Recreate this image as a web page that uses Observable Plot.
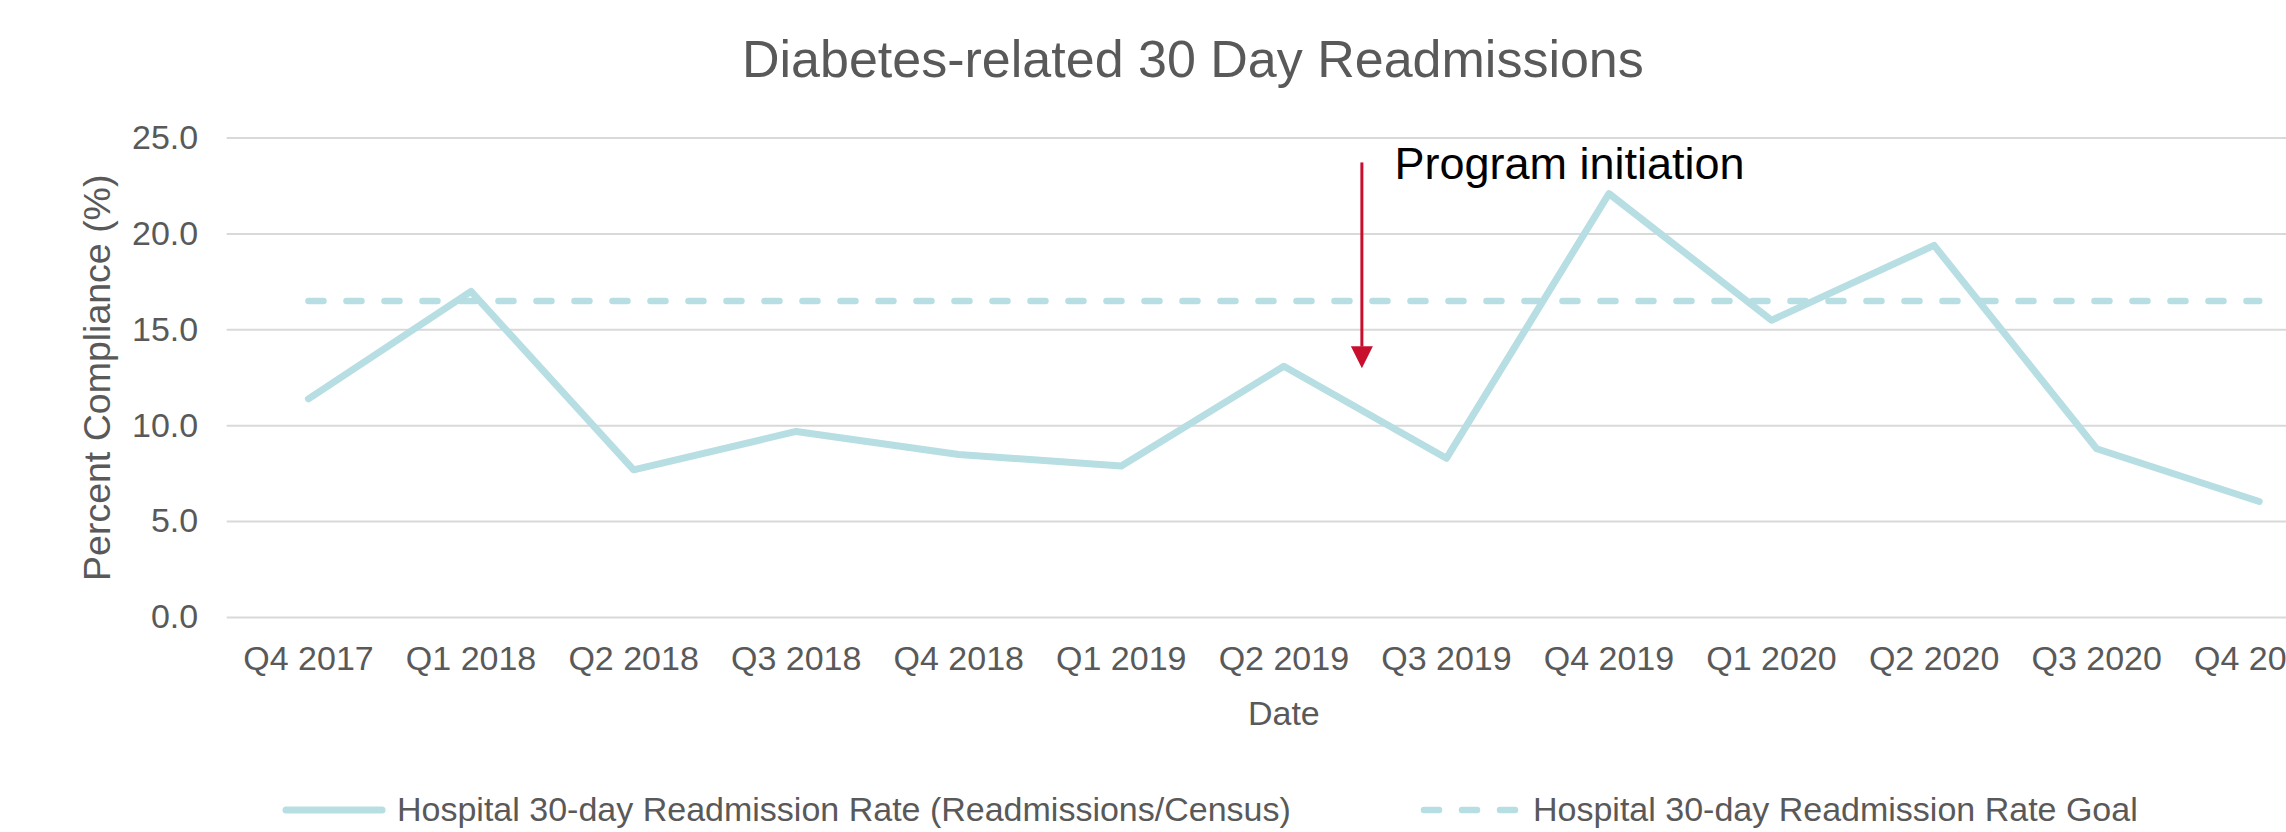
<!DOCTYPE html>
<html><head><meta charset="utf-8">
<script src="https://cdn.jsdelivr.net/npm/d3@7"></script>
<script src="https://cdn.jsdelivr.net/npm/@observablehq/plot@0.6"></script>
<style>
html,body{margin:0;padding:0;background:#fff;overflow:hidden;}
#chart{position:relative;width:2286px;height:832px;font-family:"Liberation Sans",Arial,sans-serif;color:#595959;overflow:hidden;background:#fff;}
#title{position:absolute;top:33px;left:742px;font-size:52px;line-height:52px;white-space:nowrap;color:#595959;}
#plot{position:absolute;top:100px;left:0;}
.leg{position:absolute;top:792px;font-size:34px;line-height:34px;white-space:nowrap;color:#595959;}
.sw{position:absolute;top:800px;}
</style></head>
<body><div id="chart"><div id="title"></div><div id="plot"></div></div>
<script>
// ---- data ----
const titleText = "Diabetes-related 30 Day Readmissions";
const xLabel = "Date";
const yLabel = "Percent Compliance (%)";
const quarters = ["Q4 2017","Q1 2018","Q2 2018","Q3 2018","Q4 2018","Q1 2019","Q2 2019","Q3 2019","Q4 2019","Q1 2020","Q2 2020","Q3 2020","Q4 2020"];
const rates = [11.4, 17.0, 7.7, 9.7, 8.5, 7.9, 13.1, 8.3, 22.1, 15.5, 19.4, 8.8, 6.05];
const goalRate = 16.5;
const yTicks = [0, 5, 10, 15, 20, 25];
const seriesNames = ["Hospital 30-day Readmission Rate (Readmissions/Census)", "Hospital 30-day Readmission Rate Goal"];
// annotation: arrow between Q2 2019 and Q3 2019
const arrowX = [6.48];
const arrowTop = [23.7];
const arrowBase = [14.1];
const arrowTip = [13.0];
const noteText = ["Program initiation"];
const noteX = [6.68];
const noteY = [22.84];

// ---- styles ----
const teal = "#b7dee2";
const red = "#c8102e";
const grid = "#d9d9d9";

const table = quarters.map((q, i) => ({i, quarter: q, rate: rates[i], goal: goalRate}));
const arrow = arrowX.map((x, k) => ({x, top: arrowTop[k], base: arrowBase[k], tip: arrowTip[k]}));
const note = noteText.map((t, k) => ({text: t, x: noteX[k], y: noteY[k]}));
const downTri = {draw(ctx) { ctx.moveTo(0, 0); ctx.lineTo(-11, -22); ctx.lineTo(11, -22); ctx.closePath(); }};

document.getElementById("title").textContent = titleText;

const chart = Plot.plot({
  width: 2286,
  height: 660,
  marginLeft: 226.7,
  marginRight: -54,
  marginTop: 37.5,
  marginBottom: 143,
  style: {fontFamily: "'Liberation Sans', Arial, sans-serif", fontSize: "34px", color: "#595959", background: "white", overflow: "visible"},
  x: {domain: [-0.5, quarters.length - 0.5]},
  y: {domain: [0, 25]},
  marks: [
    Plot.ruleY(yTicks, {stroke: grid, strokeWidth: 2}),
    Plot.axisY({ticks: yTicks, tickSize: 0, tickPadding: 29, tickFormat: d => d.toFixed(1), label: null}),
    Plot.axisX({ticks: d3.range(quarters.length), tickSize: 0, tickPadding: 28, tickFormat: i => quarters[i], label: null}),
    Plot.text([yLabel], {text: d => d, frameAnchor: "left", rotate: -90, dx: -117, textAnchor: "middle", lineAnchor: "bottom", fontSize: 37.5, fill: "#595959"}),
    Plot.text([xLabel], {text: d => d, frameAnchor: "bottom", lineAnchor: "bottom", dy: 107, fill: "#595959"}),
    Plot.line(table, {x: "i", y: "rate", stroke: teal, strokeWidth: 7, strokeLinejoin: "round", strokeLinecap: "round"}),
    Plot.line(table, {x: "i", y: "goal", stroke: teal, strokeWidth: 6.5, strokeDasharray: "15 23", strokeLinecap: "round"}),
    Plot.ruleX(arrow, {x: "x", y1: "top", y2: "base", stroke: red, strokeWidth: 3}),
    Plot.dot(arrow, {x: "x", y: "tip", symbol: downTri, fill: red, stroke: "none"}),
    Plot.text(note, {x: "x", y: "y", text: "text", textAnchor: "start", lineAnchor: "bottom", fontSize: 45, fill: "#000"})
  ]
});
document.getElementById("plot").appendChild(chart);

// ---- legend (below the SVG) ----
const root = d3.select("#chart");
const sw1 = root.append("svg").attr("class", "sw").style("left", "270px").attr("width", 130).attr("height", 20);
sw1.append("line").attr("x1", 16).attr("x2", 112).attr("y1", 10).attr("y2", 10)
  .attr("stroke", teal).attr("stroke-width", 7).attr("stroke-linecap", "round");
root.append("div").attr("class", "leg").style("left", "397px").text(seriesNames[0]);
const sw2 = root.append("svg").attr("class", "sw").style("left", "1410px").attr("width", 120).attr("height", 20);
sw2.append("line").attr("x1", 14).attr("x2", 105).attr("y1", 10).attr("y2", 10)
  .attr("stroke", teal).attr("stroke-width", 6.5).attr("stroke-linecap", "round").attr("stroke-dasharray", "15 23");
root.append("div").attr("class", "leg").style("left", "1533px").text(seriesNames[1]);
</script>
</body></html>
